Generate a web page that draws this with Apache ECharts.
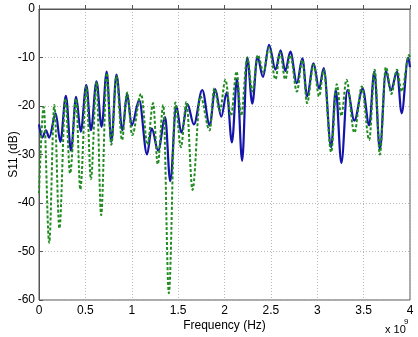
<!DOCTYPE html>
<html>
<head>
<meta charset="utf-8">
<script src="https://cdn.jsdelivr.net/npm/echarts@6/dist/echarts.min.js"></script>
<style>
html,body{margin:0;padding:0;background:#fff;}
#chart{width:418px;height:337px;}
</style>
</head>
<body>
<div id="chart"></div>
<script>
// Frequency in units of 1e9 Hz
var xTicks = [0, 0.5, 1, 1.5, 2, 2.5, 3, 3.5, 4];
var yTicks = [-60, -50, -40, -30, -20, -10, 0];

var blueX = [0.00,0.035,0.075,0.11,0.18,0.23,0.29,0.345,0.40,0.45,0.51,0.56,0.62,0.675,0.73,0.78,0.835,0.90,0.95,1.00,1.08,1.165,1.215,1.285,1.36,1.415,1.48,1.535,1.60,1.67,1.76,1.84,1.90,1.965,2.025,2.08,2.135,2.19,2.245,2.30,2.355,2.415,2.48,2.55,2.605,2.655,2.71,2.78,2.84,2.89,2.96,3.02,3.07,3.15,3.20,3.26,3.325,3.40,3.49,3.56,3.615,3.675,3.74,3.795,3.86,3.91,3.98,4.00];
var blueY = [-23.8,-26.5,-25,-26.5,-21.5,-27.4,-17.9,-29.2,-18.1,-25.3,-15.7,-25,-14.9,-24.3,-12.9,-27.4,-13.5,-25,-17.5,-24,-18.8,-30,-24.6,-29.2,-22.3,-35.5,-20,-25.5,-19.6,-23.8,-16.7,-24,-16.5,-22.2,-17.2,-27.5,-14.4,-31.3,-10,-19.5,-9.8,-14,-7.4,-12.5,-8.5,-12.8,-8.8,-15.3,-10.2,-18,-11.2,-16.4,-12.2,-28.5,-16.7,-31.8,-16.7,-23,-16.4,-24,-12.9,-29,-12.8,-16.8,-12.9,-21.5,-10,-12];

var greenX = [0.00,0.05,0.11,0.165,0.22,0.285,0.335,0.40,0.445,0.51,0.56,0.62,0.67,0.73,0.78,0.835,0.895,0.95,1.005,1.10,1.17,1.23,1.28,1.34,1.40,1.47,1.53,1.59,1.655,1.74,1.84,1.89,1.95,2.01,2.07,2.13,2.18,2.245,2.30,2.36,2.42,2.48,2.55,2.60,2.655,2.71,2.78,2.84,2.89,2.96,3.02,3.07,3.15,3.21,3.26,3.315,3.40,3.48,3.56,3.62,3.675,3.74,3.80,3.86,3.91,3.99,4.00];
var greenY = [-38,-20.2,-48.2,-19.8,-45.2,-18.5,-33.9,-18.5,-37.2,-16,-35.1,-15,-42.5,-13.2,-28,-13.8,-27,-17.2,-26,-17.5,-28,-19.4,-32,-19.8,-58.6,-19.3,-28.5,-19.2,-37.3,-18,-25,-16.4,-21,-14.6,-22,-12.9,-22,-10,-17,-9.5,-13,-8,-14.5,-9,-14.5,-9.5,-17,-10.5,-19.4,-11.5,-18,-12.5,-29.5,-15.5,-22,-14.6,-25.5,-16,-27,-12.5,-30,-12,-17.5,-12.5,-17,-9.5,-10];

function zip(xs, ys){ return xs.map(function(x,i){ return [x, ys[i]]; }); }

var font = '"Liberation Sans", Arial, sans-serif';
var chart = echarts.init(document.getElementById('chart'), null, {renderer:'canvas'});
chart.setOption({
  animation:false,
  backgroundColor:'#fff',
  grid:{left:39,right:8,top:9,bottom:37,containLabel:false,outerBoundsMode:'none',show:true,borderColor:'#555',borderWidth:1,backgroundColor:'transparent'},
  xAxis:{
    type:'value', min:xTicks[0], max:xTicks[xTicks.length-1], interval:0.5,
    name:'Frequency (Hz)', nameLocation:'middle', nameGap:20, nameMoveOverlap:false,
    nameTextStyle:{fontFamily:font,fontSize:12,color:'#000'},
    axisLine:{show:true,lineStyle:{color:'#555'}},
    axisTick:{show:true,inside:true,length:4,lineStyle:{color:'#555'}},
    axisLabel:{fontFamily:font,fontSize:12,color:'#000',margin:5},
    splitLine:{show:true,lineStyle:{color:'#b8b8b8',type:[1,2],width:1}}
  },
  yAxis:{
    type:'value', min:yTicks[0], max:yTicks[yTicks.length-1], interval:10,
    name:'S11 (dB)', nameLocation:'middle', nameGap:19, nameMoveOverlap:false,
    nameTextStyle:{fontFamily:font,fontSize:12,color:'#000'},
    axisLine:{show:true,lineStyle:{color:'#555'}},
    axisTick:{show:true,inside:true,length:4,lineStyle:{color:'#555'}},
    axisLabel:{fontFamily:font,fontSize:12,color:'#000',margin:4},
    splitLine:{show:true,lineStyle:{color:'#b8b8b8',type:[1,2],width:1}}
  },
  series:[
    {type:'line', data:zip(blueX,blueY), showSymbol:false, smooth:0.35, smoothMonotone:'x',
     lineStyle:{color:'#1414a8',width:2.2}, z:2},
    {type:'line', data:zip(greenX,greenY), showSymbol:false, smooth:0.35, smoothMonotone:'x',
     lineStyle:{color:'#218c21',width:2,type:[3,2]}, z:3}
  ],
  graphic:[
    {type:'text', left:385, top:324, style:{text:'x 10', fontFamily:font, fontSize:11, fill:'#000'}},
    {type:'text', left:404, top:318, style:{text:'9', fontFamily:font, fontSize:8, fill:'#000'}}
  ]
});
</script>
</body>
</html>
